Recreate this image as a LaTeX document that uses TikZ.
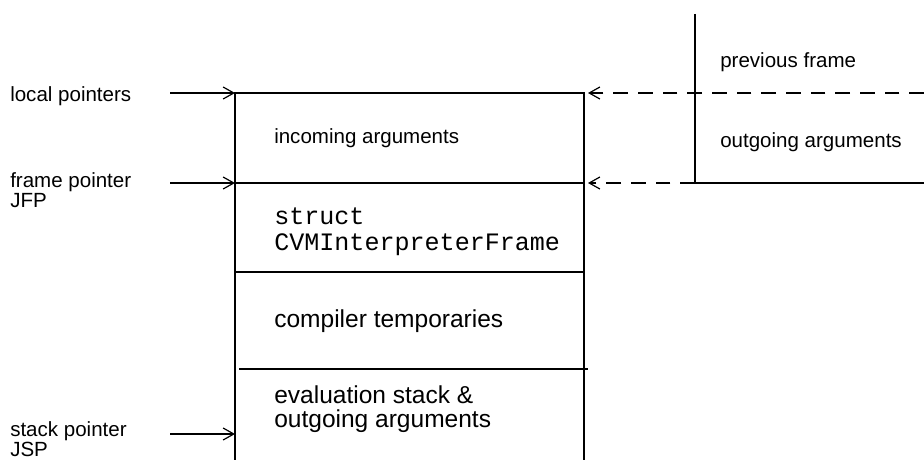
\documentclass[tikz,border=0pt]{standalone}
\usepackage{fontspec}
\setmainfont{Liberation Sans}
\newfontfamily\monofnt{Liberation Mono}
\usetikzlibrary{arrows.meta}
\tikzset{
  lbl/.style={anchor=base west, inner sep=0pt, font=\fontsize{15.4pt}{12.8pt}\selectfont, align=left},
  biglbl/.style={anchor=base west, inner sep=0pt, font=\fontsize{18.4pt}{18pt}\selectfont, align=left},
  monolbl/.style={anchor=base west, inner sep=0pt, font=\monofnt\fontsize{18.8pt}{18.8pt}\selectfont, align=left},
  wall/.style={line width=0.9pt},
  ptr/.style={line width=0.9pt, -{Straight Barb[length=8pt,width=9pt,line width=0.9pt]}},
  dptr/.style={line width=0.9pt, dash pattern=on 11pt off 7.5pt, -{Straight Barb[length=8pt,width=9pt,line width=0.9pt]}},
}
\begin{document}
\begin{tikzpicture}[x=0.75pt,y=-0.75pt]
\useasboundingbox (0,0) rectangle (924,460);
% main frame box
\coordinate (tl) at (235,93);
\coordinate (tr) at (584,93);
\coordinate (fl) at (235,183);
\coordinate (fr) at (584,183);
\coordinate (cl) at (235,272);
\coordinate (cr) at (584,272);
\coordinate (el) at (239,369);
\coordinate (er) at (588,369);
\coordinate (bl) at (235,460);
\coordinate (br) at (584,460);
\coordinate (sl) at (235,434);
\draw[wall] (bl) -- (tl) -- (tr) -- (br);
\draw[wall] (fl) -- (fr);
\draw[wall] (cl) -- (cr);
\draw[wall] (el) -- (er);
% previous frame box
\coordinate (pt) at (695,14);
\coordinate (pb) at (695,183);
\coordinate (pr) at (924,183);
\coordinate (dr) at (924,93);
\draw[wall] (pt) -- (pb) -- (pr);
% pointer labels (base anchor = last line's baseline)
\node[lbl] (lp) at (10,101) {local pointers};
\node[lbl] (fp) at (10,207) {frame pointer\\JFP};
\node[lbl] (sp) at (10,456) {stack pointer\\JSP};
\coordinate (lps) at (170,93);
\coordinate (fps) at (170,183);
\coordinate (sps) at (170,434);
\draw[ptr] (lps) -- (tl);
\draw[ptr] (fps) -- (fl);
\draw[ptr] (sps) -- (sl);
% dashed arrows
\coordinate (tip1) at (588,93);
\coordinate (tip2) at (588,183);
\draw[dptr] (dr) -- (tip1);
\draw[dptr] (pb) -- (tip2);
% contents
\node[lbl] (inc) at (274,143) {incoming arguments};
\node[monolbl] (st) at (274,250) {struct\\CVMInterpreterFrame};
\node[biglbl] (ct) at (274,327) {compiler temporaries};
\node[biglbl] (ev) at (274,427) {evaluation stack \&\\outgoing arguments};
\node[lbl] (pf) at (720,68) {previous frame};
\node[lbl] (oa) at (720,147) {outgoing arguments};
\end{tikzpicture}
\end{document}
